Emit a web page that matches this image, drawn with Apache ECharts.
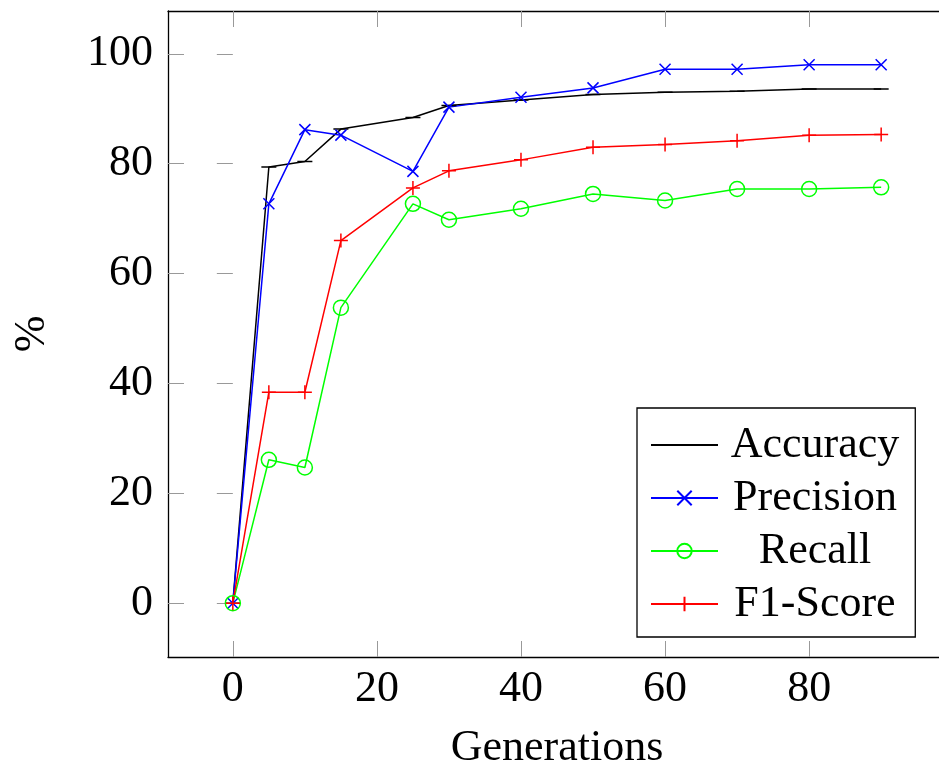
<!DOCTYPE html>
<html>
<head>
<meta charset="utf-8">
<script src="https://cdn.jsdelivr.net/npm/echarts@6/dist/echarts.min.js"></script>
<style>
html,body{margin:0;padding:0;background:#fff;}
#chart{width:939px;height:771px;}
</style>
</head>
<body>
<div id="chart"></div>
<script>
// Data
var generations = [0, 5, 10, 15, 25, 30, 40, 50, 60, 70, 80, 90];
var accuracy  = [0, 79.4, 80.4, 86.3, 88.4, 90.6, 91.6, 92.6, 93.0, 93.2, 93.6, 93.6];
var precision = [0, 72.7, 86.2, 85.2, 78.6, 90.3, 92.1, 93.8, 97.2, 97.2, 98.0, 98.0];
var recall    = [0, 26.1, 24.7, 53.8, 72.7, 69.8, 71.8, 74.5, 73.3, 75.4, 75.4, 75.7];
var f1score   = [0, 38.4, 38.4, 66.0, 75.6, 78.7, 80.7, 83.0, 83.5, 84.2, 85.2, 85.3];
var seriesNames = ['Accuracy', 'Precision', 'Recall', 'F1-Score'];
var xTicks = [0, 20, 40, 60, 80];
var yTicks = [0, 20, 40, 60, 80, 100];
var xLabel = 'Generations';
var yLabel = '%';

function pairs(xs, ys) { return xs.map(function (x, i) { return [x, ys[i]]; }); }

var FONT = 'Liberation Serif';
var FS = 44;
var LW = 1.5;

var MARK_DASH = 'path://M0,4.5L10,4.5L10,5.5L0,5.5ZM5,0L5,0ZM5,10L5,10Z';
var MARK_X = 'path://M0,0L10,10M10,0L0,10';
var MARK_PLUS = 'path://M5,0L5,10M0,5L10,5';

var chart = echarts.init(document.getElementById('chart'), null, {renderer: 'canvas'});

var tickStyle = {show: true, inside: true, length: 16, lineStyle: {color: '#999999', width: 1}};
var frameLine = {show: true, onZero: false, lineStyle: {color: '#000', width: 1.3}};

function mkSeries(name, data, color, symbol, size, itemStyle) {
  return {
    type: 'line', name: name, data: data,
    xAxisIndex: 0, yAxisIndex: 0,
    symbol: symbol, symbolSize: size, showSymbol: true,
    lineStyle: {color: color, width: LW},
    itemStyle: itemStyle,
    emphasis: {disabled: true},
    animation: false,
    z: 3
  };
}

var option = {
  animation: false,
  backgroundColor: '#fff',
  grid: {left: 168, top: 11, width: 778, height: 646, containLabel: false, outerBoundsMode: 'none'},
  xAxis: [
    {
      type: 'value', position: 'bottom', min: -9, max: 99,
      axisLine: frameLine,
      axisTick: Object.assign({customValues: xTicks}, tickStyle),
      axisLabel: {customValues: xTicks, margin: 10, fontFamily: FONT, fontSize: FS, color: '#000'},
      splitLine: {show: false},
      name: xLabel, nameLocation: 'middle', nameGap: 69, nameMoveOverlap: false,
      nameTextStyle: {fontFamily: FONT, fontSize: FS, color: '#000'}
    },
    {
      type: 'value', position: 'top', min: -9, max: 99,
      axisLine: frameLine,
      axisTick: Object.assign({customValues: xTicks}, tickStyle),
      axisLabel: {show: false},
      splitLine: {show: false}
    }
  ],
  yAxis: [
    {
      type: 'value', position: 'left', min: -9.8, max: 107.8,
      axisLine: frameLine,
      axisTick: Object.assign({customValues: yTicks}, tickStyle),
      axisLabel: {customValues: yTicks, margin: 15, fontFamily: FONT, fontSize: FS, color: '#000'},
      splitLine: {show: false},
      name: yLabel, nameLocation: 'middle', nameGap: 114, nameMoveOverlap: false,
      nameTextStyle: {fontFamily: FONT, fontSize: FS, color: '#000'}
    },
    {
      type: 'value', position: 'right', min: -9.8, max: 107.8,
      axisLine: {show: false},
      axisTick: Object.assign({customValues: yTicks}, tickStyle),
      axisLabel: {show: false},
      splitLine: {show: false}
    }
  ],
  legend: {
    orient: 'vertical', left: 637, top: 408,
    padding: [15, 16, 11, 13],
    itemWidth: 67, itemHeight: 18, itemGap: 9,
    backgroundColor: '#fff', borderColor: '#000', borderWidth: 1.3,
    selectedMode: false,
    data: seriesNames,
    formatter: function (n) { return '{t|' + n + '}'; },
    textStyle: {
      fontFamily: FONT, fontSize: FS, color: '#000',
      rich: {t: {width: 184, align: 'center', fontFamily: FONT, fontSize: FS, color: '#000'}}
    },
    z: 10
  },
  series: [
    mkSeries(seriesNames[0], pairs(generations, accuracy), '#000000', MARK_DASH, 15,
      {color: '#000000', borderWidth: 0}),
    mkSeries(seriesNames[1], pairs(generations, precision), '#0000ff', MARK_X, 11,
      {color: '#0000ff', borderColor: '#0000ff', borderWidth: 1.5}),
    mkSeries(seriesNames[2], pairs(generations, recall), '#00ff00', 'circle', 15,
      {color: 'rgba(0,0,0,0)', borderColor: '#00ff00', borderWidth: 1.5}),
    mkSeries(seriesNames[3], pairs(generations, f1score), '#ff0000', MARK_PLUS, 14,
      {color: '#ff0000', borderColor: '#ff0000', borderWidth: 1.5})
  ]
};
chart.setOption(option);
</script>
</body>
</html>
